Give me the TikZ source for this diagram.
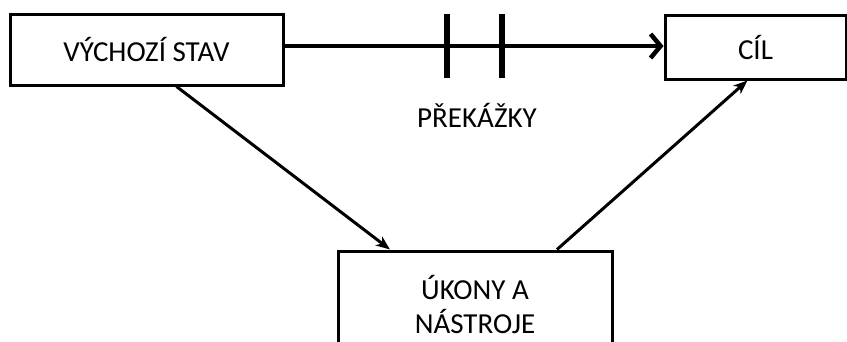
\documentclass[tikz,border=0pt]{standalone}
\usepackage{fontspec}
\setmainfont{Carlito}
\usetikzlibrary{arrows.meta, positioning}
\tikzstyle{box} = [rectangle, draw, line width=3pt, inner sep=0pt]
\tikzstyle{arrow} = [line width=3pt,-{Stealth[length=14pt, width=11pt, inset=4pt]}]
\tikzstyle{mainarrow} = [line width=4.5pt,-{Straight Barb[length=10pt, width=24pt]}]
\tikzstyle{barrier} = [rectangle, fill=black, minimum width=6pt, minimum height=64pt, inner sep=0pt]

\begin{document}
\begin{tikzpicture}[x=1pt, y=-1pt, font=\fontsize{29}{34}\selectfont]
    \clip (0,0) rectangle (847,341);

    % Starting state
    \node (start) [box, minimum width=273pt, minimum height=71pt] at (146.5,49.5) {VÝCHOZÍ STAV};

    % Goal
    \node (goal) [box, minimum width=181pt, minimum height=64pt] at (755.5,47) {CÍL};

    % Actions and tools
    \node (tools) [box, minimum width=274pt, minimum height=100pt] at (475,301) {};
    \node at (tools.north) [anchor=north, yshift=-26pt, align=center, inner sep=0pt] {ÚKONY A\\NÁSTROJE};

    % Obstacles
    \node (bar1) [barrier] at (447,46) {};
    \node (bar2) [barrier] at (502,46) {};
    \node (obstacles) at (477,115) {PŘEKÁŽKY};

    % Paths
    \draw [mainarrow] (start.east |- bar1) -- (goal.west |- bar1);
    \draw [arrow] ([xshift=30pt]start.south) -- ([xshift=-85pt]tools.north);
    \draw [arrow] ([xshift=82pt]tools.north) -- ([xshift=-8pt]goal.south);
\end{tikzpicture}
\end{document}
